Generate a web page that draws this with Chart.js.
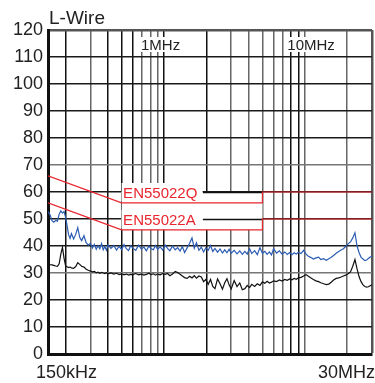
<!DOCTYPE html>
<html>
<head>
<meta charset="utf-8">
<script src="https://cdn.jsdelivr.net/npm/chart.js@4.4.0/dist/chart.umd.min.js"></script>
<style>
  body { margin: 0; background: #fff; }
  #wrap { width: 375px; height: 383px; position: relative; }
</style>
</head>
<body>
<div id="wrap"><canvas id="myChart"></canvas></div>
<script>
// sweep frequencies (MHz) shared by both measured traces
const freqMHz = [
  0.150, 0.155, 0.160, 0.165, 0.170, 0.175, 0.180, 0.185, 0.190, 0.195,
  0.200, 0.205, 0.210, 0.215, 0.220, 0.228, 0.236, 0.244, 0.252, 0.260,
  0.270, 0.280, 0.290, 0.300, 0.31, 0.32, 0.33, 0.34, 0.35, 0.36,
  0.37, 0.38, 0.39, 0.40, 0.42, 0.44, 0.46, 0.48, 0.50, 0.52,
  0.54, 0.56, 0.58, 0.60, 0.63, 0.66, 0.69, 0.72, 0.75, 0.78,
  0.81, 0.84, 0.87, 0.90, 0.94, 0.98, 1.02, 1.06, 1.10, 1.15,
  1.20, 1.25, 1.30, 1.35, 1.40, 1.46, 1.52, 1.58, 1.64, 1.70,
  1.77, 1.84, 1.91, 1.98, 2.06, 2.14, 2.22, 2.30, 2.40, 2.50,
  2.60, 2.70, 2.80, 2.90, 3.0, 3.15, 3.3, 3.45, 3.6, 3.75,
  3.9, 4.05, 4.2, 4.4, 4.6, 4.8, 5.0, 5.2, 5.4, 5.6,
  5.8, 6.0, 6.3, 6.6, 6.9, 7.2, 7.5, 7.8, 8.1, 8.4,
  8.7, 9.0, 9.4, 9.8, 10.2, 10.6, 11.0, 11.5, 12.0, 12.5,
  13.0, 13.6, 14.2, 14.8, 15.4, 16.0, 16.7, 17.4, 18.1, 18.8,
  19.5, 20.3, 21.1, 21.9, 22.7, 23.5, 24.3, 25.1, 25.9, 26.7,
  27.5, 28.3, 29.1, 30.0
];

// peak detector trace (blue), dBuV
const peakDb = [
  52.7, 51.6, 49.4, 48.8, 49.5, 49.2, 51.8, 53.0, 52.2, 52.8,
  50.6, 47.5, 44.2, 42.8, 44.6, 42.6, 44.3, 46.8, 43.2, 42.0,
  43.8, 41.2, 40.3, 41.0, 39.2, 40.6, 38.8, 40.1, 39.0, 40.9,
  38.6, 39.8, 38.4, 40.4, 39.1, 40.2, 38.5, 39.9, 38.7, 40.5,
  39.0, 38.3, 40.1, 39.2, 38.4, 40.3, 38.9, 39.6, 38.2, 40.0,
  39.0, 38.6, 40.2, 38.8, 39.7, 38.5, 40.3, 39.1, 38.2, 40.0,
  38.6, 39.4, 38.1, 39.8, 37.6, 39.3, 41.0, 43.0, 39.2, 41.2,
  38.4, 39.6, 37.8, 39.3, 38.4, 40.2, 38.0, 39.1, 37.7, 38.9,
  37.4, 38.6, 37.5, 38.8, 37.3, 38.4, 37.1, 38.2, 36.9, 38.0,
  37.0, 39.0, 37.2, 38.3, 36.8, 39.4, 37.3, 38.0, 36.9, 37.8,
  36.7, 39.0, 37.4, 38.2, 37.0, 37.8, 36.9, 37.6, 36.8, 37.5,
  37.0, 37.7, 37.2, 38.4, 37.0, 36.2, 35.8, 35.2, 35.6, 35.9,
  35.0, 35.3, 34.7, 35.3, 35.8, 36.5, 37.3, 38.0, 38.5, 39.0,
  39.8, 40.8, 41.5, 43.0, 44.9, 40.0, 37.5, 35.8, 35.2, 34.6,
  34.8, 35.4, 35.9, 36.2
];

// average detector trace (black), dBuV
const avgDb = [
  33.3, 33.1, 33.0, 32.8, 32.6, 32.5, 33.4, 37.0, 39.5, 35.5,
  32.6, 32.3, 32.0, 32.2, 31.9, 31.7, 32.4, 33.8, 33.2, 32.5,
  32.2, 31.4, 31.0, 30.7, 30.4, 30.6, 30.1, 30.3, 29.9, 30.2,
  30.0, 29.8, 30.1, 29.7, 30.0, 29.6, 29.9, 29.4, 29.7, 29.3,
  29.6, 29.2, 29.5, 29.4, 29.8, 29.3, 29.6, 29.2, 29.5, 29.9,
  29.4, 29.7, 29.2, 29.6, 29.3, 29.8, 29.5, 29.8, 29.0, 29.6,
  30.6, 30.2, 29.5, 28.9, 28.3, 28.0, 28.8, 28.2, 29.0, 28.1,
  28.9, 28.5, 26.8, 27.6, 25.8, 27.6, 25.0, 24.2, 27.8, 26.0,
  24.0, 26.4, 27.9, 25.6, 24.1, 27.2, 25.0, 26.3, 23.8, 24.2,
  25.4, 24.6, 25.8, 25.0, 26.0, 25.4, 26.7, 26.2, 26.9, 26.3,
  26.6, 27.1, 26.8, 27.4, 27.0, 27.6, 27.3, 27.8, 27.5, 28.0,
  27.7, 28.2, 28.4, 28.9, 29.4, 28.8, 28.2, 27.6, 27.1, 26.8,
  26.4, 26.0, 25.7, 25.9, 26.6, 27.4, 28.0, 28.2, 28.5, 28.9,
  29.2, 29.7, 30.4, 32.5, 35.0, 31.5, 28.6, 26.8, 25.6, 25.0,
  24.8, 24.9, 25.3, 25.6
];

// limit lines
const limitQFreq = [0.15, 0.5, 5, 5, 30];
const limitQDb = [66, 56, 56, 60, 60];
const limitAFreq = [0.15, 0.5, 5, 5, 30];
const limitADb = [56, 46, 46, 50, 50];

// grid
const gridFreqs = [0.15, 0.2, 0.3, 0.4, 0.5, 0.6, 0.7, 0.8, 0.9, 1, 2, 3, 4, 5, 6, 7, 8, 9, 10, 20, 30];
const darkGridFreqs = [0.2, 0.4, 0.5, 0.6, 1, 2, 8, 9];
const lightGridDb = [30, 70];

const xEndLabels = ['150kHz', '30MHz'];
const decadeLabels = ['1MHz', '10MHz'];
const limitLabels = ['EN55022Q', 'EN55022A'];

const RED = '#e8262e';
const BLUE = '#2b5cb3';
const FONT = "'Liberation Sans', Arial, sans-serif";

const toXY = (xs, ys) => xs.map((x, i) => ({ x: x, y: ys[i] }));

const annotations = {
    id: 'annotations',
    beforeDatasetsDraw(chart) {
        const ctx = chart.ctx;
        const x = chart.scales.x, y = chart.scales.y;
        ctx.save();
        // white panel between the limit labels
        const x0 = x.getPixelForValue(0.5), x5 = x.getPixelForValue(5);
        ctx.fillStyle = '#fff';
        ctx.fillRect(x0, y.getPixelForValue(60), x5 - x0, y.getPixelForValue(46) - y.getPixelForValue(60));
        // grid lines 60 and 50 show again right of the labels
        ctx.strokeStyle = '#111';
        ctx.lineWidth = 1.5;
        [60, 50].forEach(v => {
            const py = Math.round(y.getPixelForValue(v)) + 0.5;
            ctx.beginPath();
            ctx.moveTo(x0 + 81, py);
            ctx.lineTo(x5, py);
            ctx.stroke();
        });
        // limit labels
        ctx.font = '15px ' + FONT;
        ctx.textAlign = 'left';
        ctx.textBaseline = 'alphabetic';
        [60, 50].forEach((v, i) => {
            const py = y.getPixelForValue(v);
            ctx.fillStyle = '#fff';
            ctx.fillRect(x0, py - 9, 81, 18);
            ctx.fillStyle = RED;
            ctx.fillText(limitLabels[i], x0 + 1.5, py + 5.5);
        });
        // decade labels at top
        ctx.font = '15px ' + FONT;
        [[1, -23], [10, -17.5]].forEach(([f, off], i) => {
            const px = x.getPixelForValue(f) + off;
            const w = ctx.measureText(decadeLabels[i]).width;
            ctx.fillStyle = '#fff';
            ctx.fillRect(px - 1, 37, w + 2, 15);
            ctx.fillStyle = '#222';
            ctx.fillText(decadeLabels[i], px, 50);
        });
        ctx.restore();
    },
    afterDraw(chart) {
        const ctx = chart.ctx;
        const x = chart.scales.x;
        ctx.save();
        ctx.fillStyle = '#222';
        ctx.font = '18px ' + FONT;
        ctx.textBaseline = 'alphabetic';
        ctx.textAlign = 'left';
        ctx.fillText(xEndLabels[0], x.getPixelForValue(0.15) - 12, 378);
        ctx.textAlign = 'right';
        ctx.fillText(xEndLabels[1], x.getPixelForValue(30) + 3, 378);
        ctx.font = '19px ' + FONT;
        ctx.textAlign = 'left';
        ctx.fillText('L-Wire', chart.chartArea.left + 1, 24);
        ctx.restore();
    }
};

const config = {
    type: 'line',
    data: {
        datasets: [
            { label: 'EN55022Q', data: toXY(limitQFreq, limitQDb), borderColor: RED, borderWidth: 1.2 },
            { label: 'EN55022A', data: toXY(limitAFreq, limitADb), borderColor: RED, borderWidth: 1.2 },
            { label: 'Average', data: toXY(freqMHz, avgDb), borderColor: '#111', borderWidth: 1.2 },
            { label: 'Peak', data: toXY(freqMHz, peakDb), borderColor: BLUE, borderWidth: 1.2 }
        ]
    },
    options: {
        responsive: true,
        maintainAspectRatio: false,
        animation: false,
        layout: { padding: { top: 30, right: 3, left: 0, bottom: 0 } },
        elements: { point: { radius: 0 }, line: { tension: 0 } },
        plugins: { legend: { display: false }, tooltip: { enabled: false } },
        scales: {
            x: {
                type: 'logarithmic',
                min: 0.15,
                max: 30,
                afterBuildTicks: scale => { scale.ticks = gridFreqs.map(v => ({ value: v })); },
                afterFit: scale => { scale.height = 29; },
                ticks: { display: false },
                grid: {
                    drawTicks: false,
                    color: c => c.tick && c.tick.value === 30 ? '#555' :
                        (c.tick && darkGridFreqs.includes(c.tick.value) ? '#111' : '#666'),
                    lineWidth: c => c.tick && c.tick.value === 30 ? 2.5 : 1.5
                },
                border: { display: true, color: '#111', width: 3 }
            },
            y: {
                min: 0,
                max: 120,
                afterFit: scale => { scale.width = 48; },
                ticks: { stepSize: 10, padding: 5, color: '#222', font: { size: 18, family: FONT } },
                grid: {
                    drawTicks: false,
                    color: c => c.tick && c.tick.value === 120 ? '#555' :
                        (c.tick && lightGridDb.includes(c.tick.value) ? '#777' : '#1a1a1a'),
                    lineWidth: c => c.tick && c.tick.value === 120 ? 2.5 : 1.5
                },
                border: { display: true, color: '#111', width: 3 }
            }
        }
    },
    plugins: [annotations]
};

const ctx = document.getElementById('myChart').getContext('2d');
window.myChart = new Chart(ctx, config);
</script>
</body>
</html>
